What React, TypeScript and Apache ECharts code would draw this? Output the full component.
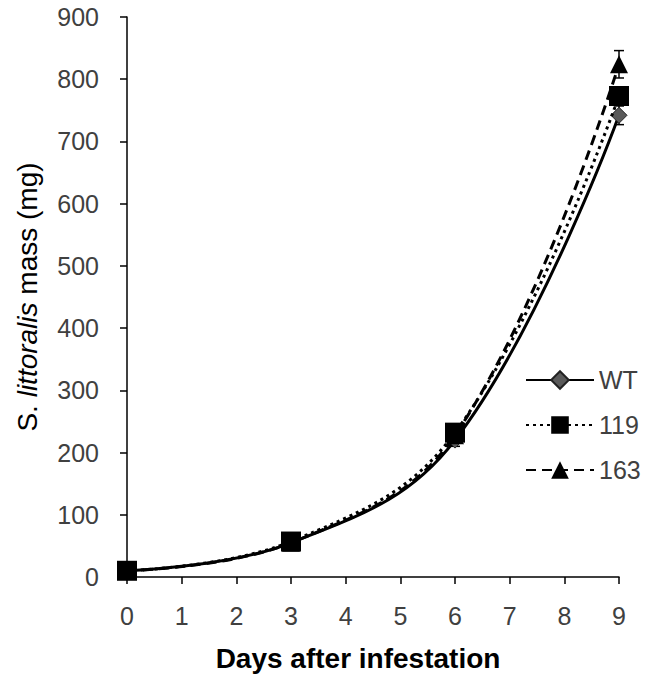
import React, { useEffect, useRef } from "react";
import * as echarts from "echarts";

const days = [0, 3, 6, 9];
const wtMass = [10, 55, 220, 742];
const wtErr = [3, 5, 10, 15];
const l119Mass = [10, 57, 232, 773];
const l119Err = [3, 5, 12, 12];
const l163Mass = [10, 55, 228, 824];
const l163Err = [3, 5, 10, 22];
const xTicks = [0, 1, 2, 3, 4, 5, 6, 7, 8, 9];

function pairs(vals: number[]) {
  return days.map((d, i) => [d, vals[i]]);
}
function errData(vals: number[], errs: number[]) {
  return days.map((d, i) => [d, vals[i] - errs[i], vals[i] + errs[i]]);
}

function errSeries(name: string, vals: number[], errs: number[], color: string) {
  return {
    type: "custom",
    name: name + "_err",
    data: errData(vals, errs),
    z: 1,
    renderItem: (params: any, api: any) => {
      const x = api.value(0);
      const lo = api.coord([x, api.value(1)]);
      const hi = api.coord([x, api.value(2)]);
      const w = 5;
      const style = { stroke: color, lineWidth: 1.5 };
      return {
        type: "group",
        children: [
          { type: "line", shape: { x1: lo[0], y1: lo[1], x2: hi[0], y2: hi[1] }, style },
          { type: "line", shape: { x1: hi[0] - w, y1: hi[1], x2: hi[0] + w, y2: hi[1] }, style },
          { type: "line", shape: { x1: lo[0] - w, y1: lo[1], x2: lo[0] + w, y2: lo[1] }, style },
        ],
      };
    },
    tooltip: { show: false },
  };
}

export default function App() {
  const ref = useRef<HTMLDivElement>(null);
  useEffect(() => {
    const chart = echarts.init(ref.current!, null, { renderer: "svg" });
    const font = "Liberation Sans, Arial, sans-serif";
    chart.setOption({
      animation: false,
      backgroundColor: "#ffffff",
      grid: { left: 127, right: 34, top: 17, bottom: 104, containLabel: false, outerBoundsMode: "none" },
      legend: {
        orient: "vertical",
        left: 520,
        top: 361,
        itemWidth: 68,
        itemHeight: 22,
        itemGap: 17,
        data: ["WT", "119", "163"],
        textStyle: { fontFamily: font, fontSize: 25, lineHeight: 28, color: "#404040" },
      },
      xAxis: {
        type: "value",
        min: 0,
        max: 9,
        interval: 1,
        name: "Days after infestation",
        nameLocation: "middle",
        nameGap: 67,
        nameTextStyle: { fontFamily: font, fontSize: 28, fontWeight: "bold", color: "#000", padding: [0, 30, 0, 0] },
        axisLine: { show: true, lineStyle: { color: "#000", width: 1.5 } },
        axisTick: { show: true, inside: false, length: 7, lineStyle: { color: "#000", width: 1.5 } },
        axisLabel: {
          fontFamily: font,
          fontSize: 25,
          color: "#404040",
          margin: 26,
          formatter: (v: number) => (xTicks.includes(v) ? String(v) : ""),
        },
        splitLine: { show: false },
      },
      yAxis: {
        type: "value",
        min: 0,
        max: 900,
        interval: 100,
        name: "{n|S. }{i|littoralis}{n| mass (mg)}",
        nameLocation: "middle",
        nameGap: 86,
        nameRotate: 90,
        nameTextStyle: {
          rich: {
            n: { fontFamily: font, fontSize: 28, color: "#000" },
            i: { fontFamily: font, fontSize: 28, color: "#000", fontStyle: "italic" },
          },
        },
        axisLine: { show: true, lineStyle: { color: "#000", width: 1.5 } },
        axisTick: { show: true, inside: false, length: 7, lineStyle: { color: "#000", width: 1.5 } },
        axisLabel: { fontFamily: font, fontSize: 25, color: "#404040", margin: 28 },
        splitLine: { show: false },
      },
      series: [
        errSeries("WT", wtMass, wtErr, "#000"),
        errSeries("119", l119Mass, l119Err, "#000"),
        errSeries("163", l163Mass, l163Err, "#000"),
        {
          type: "line",
          name: "WT",
          data: pairs(wtMass),
          smooth: 0.4,
          symbol: "diamond",
          symbolSize: 16,
          z: 3,
          itemStyle: { color: "#5a5a5a", borderColor: "#222", borderWidth: 1 },
          lineStyle: { color: "#000", width: 3, type: "solid" },
        },
        {
          type: "line",
          name: "119",
          data: pairs(l119Mass),
          smooth: 0.4,
          symbol: "rect",
          symbolSize: 20,
          z: 4,
          itemStyle: { color: "#000" },
          lineStyle: { color: "#000", width: 3, type: [3, 4] },
        },
        {
          type: "line",
          name: "163",
          data: pairs(l163Mass),
          smooth: 0.4,
          symbol: "triangle",
          symbolSize: 18,
          z: 5,
          itemStyle: { color: "#000" },
          lineStyle: { color: "#000", width: 3, type: [10, 6] },
        },
      ],
    });
    return () => chart.dispose();
  }, []);
  return (
    <div
      ref={ref}
      style={{ position: "relative", left: -8, top: -8, width: 653, height: 681 }}
    />
  );
}
